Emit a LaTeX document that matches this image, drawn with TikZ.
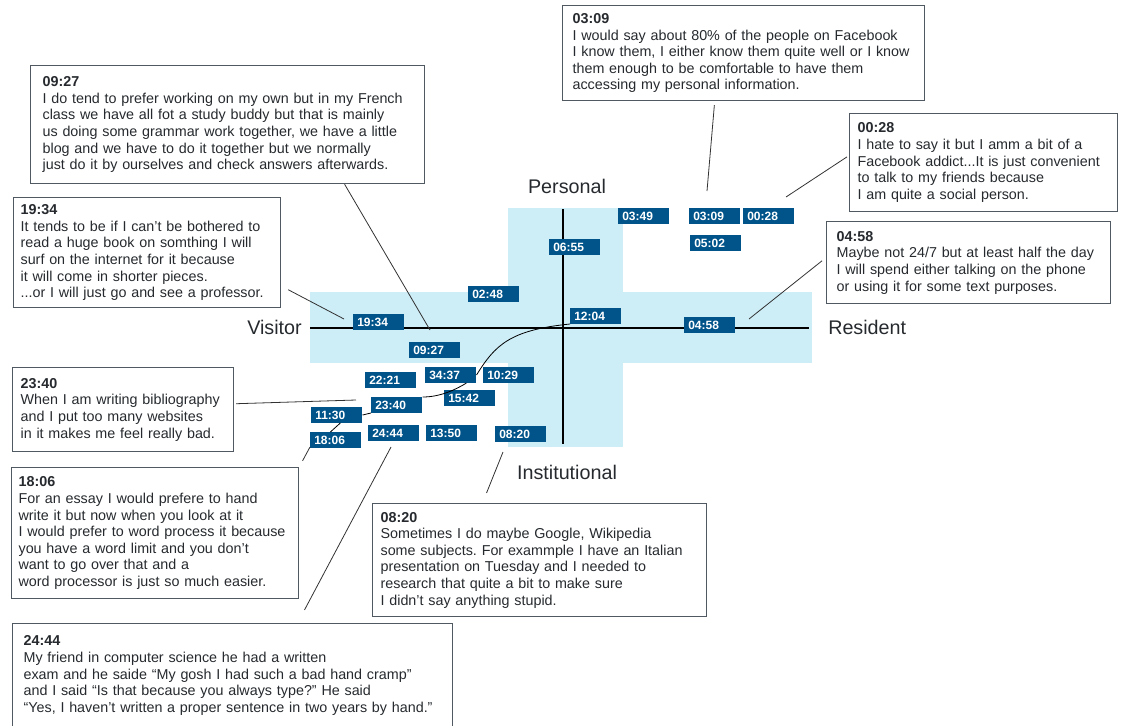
\documentclass[tikz,border=0pt]{standalone}
\usepackage{fontspec}
\setmainfont{Liberation Sans}
\definecolor{crossblue}{RGB}{205,237,247}
\definecolor{tagblue}{RGB}{0,84,138}
\definecolor{boxgray}{RGB}{80,88,98}
\definecolor{quotetext}{RGB}{38,42,46}
\definecolor{linegray}{RGB}{50,50,50}
\newcommand{\quotesize}{\fontsize{10.75}{12.45}\selectfont\frenchspacing}
\newcommand{\tagsize}{\fontsize{9}{10}\selectfont}
\newcommand{\labelsize}{\fontsize{14.8}{18}\selectfont}
\begin{document}
\begin{tikzpicture}[x=0.75pt,y=-0.75pt,
  quotebox/.style={draw=boxgray,fill=white,line width=0.9pt,anchor=north west,align=left,text=quotetext,font=\quotesize},
  timetag/.style={fill=tagblue,text=white,anchor=north west,font=\bfseries\tagsize,text width=32.25pt,inner xsep=3pt,inner ysep=0pt,minimum height=11.6pt,align=left},
  leader/.style={draw=linegray,line width=0.6pt},
  trail/.style={draw=black,line width=0.6pt},
  axisline/.style={draw=black,line width=1.1pt},
  axislabel/.style={font=\labelsize,text=quotetext,inner sep=0pt}]
\useasboundingbox (0,0) rectangle (1123,725);
\fill[crossblue] (310,292) rectangle (812,363);
\fill[crossblue] (508,208) rectangle (623,447);
\draw[axisline] (310,328) -- (809,328);
\draw[axisline] (563,209) -- (563,444);
\node[axislabel,anchor=base] (personal) at (567,193) {Personal};
\node[axislabel,anchor=base] (institutional) at (567,479) {Institutional};
\node[axislabel,anchor=base east] (visitor) at (302,334) {Visitor};
\node[axislabel,anchor=base west] (resident) at (828,334) {Resident};
\node[timetag] (t0349) at (618,208) {03:49};
\node[timetag] (t0309) at (689,208) {03:09};
\node[timetag] (t0028) at (743,208) {00:28};
\node[timetag] (t0502) at (690,235) {05:02};
\node[timetag] (t0655) at (549,239) {06:55};
\node[timetag] (t0248) at (468,286) {02:48};
\node[timetag] (t1204) at (570,308) {12:04};
\node[timetag] (t1934) at (353,314) {19:34};
\node[timetag] (t0458) at (684,317) {04:58};
\node[timetag] (t0927) at (409,342) {09:27};
\node[timetag] (t3437) at (425,367) {34:37};
\node[timetag] (t1029) at (483,367) {10:29};
\node[timetag] (t2221) at (365,372) {22:21};
\node[timetag] (t1542) at (444,390) {15:42};
\node[timetag] (t2340) at (371,397) {23:40};
\node[timetag] (t1130) at (311,407) {11:30};
\node[timetag] (t2444) at (368,425) {24:44};
\node[timetag] (t1350) at (426,425) {13:50};
\node[timetag] (t0820) at (495,426) {08:20};
\node[timetag] (t1806) at (310,432) {18:06};
\draw[trail] (t1204.south west) .. controls (510,330) and (495,345) .. (t3437.east);
\draw[trail] (t3437.-27) .. controls (455,390) and (440,397) .. (t2340.north east);
\draw[trail] (t2340.south west) -- (t1130.east);
\draw[trail] (t1130.-66) -- (t1806.124);
\node[quotebox,text width=277.5pt,inner xsep=9pt,minimum height=88.5pt] (q0927) at (30,65) {\textbf{09:27}\\I do tend to prefer working on my own but in my French\\class we have all fot a study buddy but that is mainly\\us doing some grammar work together, we have a little\\blog and we have to do it together but we normally\\just do it by ourselves and check answers afterwards.};
\node[quotebox,text width=189.75pt,inner xsep=5.25pt,minimum height=82.5pt] (q1934) at (13,197) {\textbf{19:34}\\It tends to be if I can’t be bothered to\\read a huge book on somthing I will\\surf on the internet for it because\\it will come in shorter pieces.\\...or I will just go and see a professor.};
\node[quotebox,text width=256.5pt,inner xsep=7.5pt,minimum height=71.25pt] (q0309) at (562,5) {\textbf{03:09}\\I would say about 80\% of the people on Facebook\\I know them, I either know them quite well or I know\\them enough to be comfortable to have them\\accessing my personal information.};
\node[quotebox,text width=189pt,inner xsep=6pt,minimum height=73.5pt] (q0028) at (849,113) {\textbf{00:28}\\I hate to say it but I amm a bit of a\\Facebook addict...It is just convenient\\to talk to my friends because\\I am quite a social person.};
\node[quotebox,text width=198pt,inner xsep=7.5pt,minimum height=61.5pt] (q0458) at (826,221) {\textbf{04:58}\\Maybe not 24/7 but at least half the day\\I will spend either talking on the phone\\or using it for some text purposes.};
\node[quotebox,text width=153.75pt,inner xsep=6pt,minimum height=63pt] (q2340) at (12,367) {\textbf{23:40}\\When I am writing bibliography\\and I put too many websites\\in it makes me feel really bad.};
\node[quotebox,text width=204.75pt,inner xsep=5.25pt,minimum height=98.25pt] (q1806) at (11,467) {\textbf{18:06}\\For an essay I would prefere to hand\\write it but now when you look at it\\I would prefer to word process it because\\you have a word limit and you don’t\\want to go over that and a\\word processor is just so much easier.};
\node[quotebox,text width=238.5pt,inner xsep=6pt,minimum height=84.75pt] (q0820) at (372,503) {\textbf{08:20}\\Sometimes I do maybe Google, Wikipedia\\some subjects. For exammple I have an Italian\\presentation on Tuesday and I needed to\\research that quite a bit to make sure\\I didn’t say anything stupid.};
\node[quotebox,text width=313.5pt,inner xsep=8.25pt,minimum height=78pt] (q2444) at (12,623) {\textbf{24:44}\\My friend in computer science he had a written\\exam and he saide “My gosh I had such a bad hand cramp”\\and I said “Is that because you always type?” He said\\“Yes, I haven’t written a proper sentence in two years by hand.”};
\coordinate (c0927) at (430,330);
\coordinate (c1934) at (344,319);
\coordinate (c0309) at (707,191);
\coordinate (c0028) at (786,197);
\coordinate (c0458) at (749,319);
\coordinate (c2340) at (356,400);
\coordinate (c1806) at (310,447);
\coordinate (c2444) at (391,447);
\coordinate (c0820) at (503,452);
\draw[leader] (q0927.-27.4) -- (c0927);
\draw[leader,shorten <=5.9pt] (q1934.-14.4) -- (c1934);
\draw[leader,shorten <=3pt] (q0309.-121.1) -- (c0309);
\draw[leader,shorten <=1.8pt] (q0028.177.7) -- (c0028);
\draw[leader,shorten <=3.8pt] (q0458.178.7) -- (c0458);
\draw[leader,shorten <=1.5pt] (q2340.3.6) -- (c2340);
\draw[leader,shorten <=5.3pt] (q1806.north east) -- (c1806);
\draw[leader,shorten <=11.1pt] (q2444.39.1) -- (c2444);
\draw[leader,shorten <=8.1pt] (q0820.135.3) -- (c0820);
\end{tikzpicture}
\end{document}
